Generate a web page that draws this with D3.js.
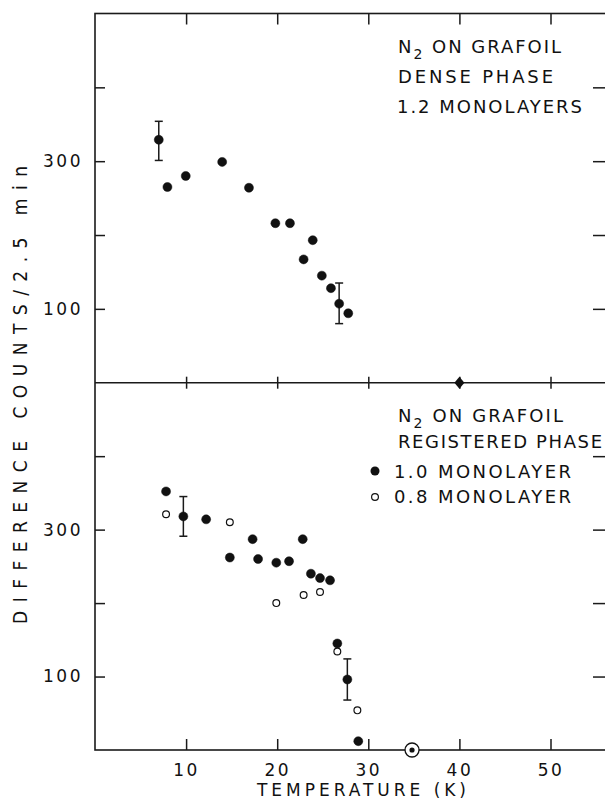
<!DOCTYPE html>
<html>
<head>
<style>
  body { margin: 0; background: #fff; }
  text { font-family: "DejaVu Sans", sans-serif; fill: #111; }
</style>
</head>
<body>
<script src="https://cdn.jsdelivr.net/npm/d3@7"></script>
<script>
// data
var denseT = [7.0, 7.95, 9.96, 13.96, 16.9, 19.8, 21.4, 23.9, 22.9, 24.9, 25.9, 26.8, 27.8];
var denseV = [329, 265, 280, 299, 264, 216, 216, 193, 167, 145, 128, 107, 94];
var denseErr = [[7.0, 301, 354], [26.8, 80, 135]];

var regFullT = [7.8, 9.7, 12.2, 14.8, 17.3, 17.9, 19.9, 21.3, 22.8, 23.7, 24.7, 25.8, 26.6, 27.7, 28.9];
var regFullV = [352, 318, 314, 262, 287, 260, 255, 257, 287, 240, 234, 231, 145, 96, 12];
var regLowT = [7.8, 14.8, 19.9, 22.9, 24.7, 26.6, 28.8];
var regLowV = [321, 310, 200, 211, 215, 134, 54];
var regErr = [[9.7, 291, 345], [27.7, 68, 124]];

var xTicks = [10, 20, 30, 40, 50];
var yTicks = [100, 200, 300, 400];
var yLabelled = [100, 300];

var W = 605, H = 801;
var left = 95, right = 610, top1 = 13.5, mid = 382.7, bot = 750;

var svg = d3.select("body").append("svg")
    .attr("width", W).attr("height", H);
svg.append("rect").attr("width", W).attr("height", H).style("fill", "#fff");

// 9.11 px per kelvin, the right edge of the frame lies just off the page
var x = d3.scaleLinear().domain([0, (right - left) / 9.11]).range([left, right]);
var yTop = d3.scaleLinear().domain([0, 500]).range([mid, top1]);
var yBot = d3.scaleLinear().domain([0, 500]).range([bot, mid]);

var ink = "#1a1a1a";

// frame
svg.append("rect")
    .attr("x", left).attr("y", top1)
    .attr("width", right - left).attr("height", bot - top1)
    .style("fill", "none").style("stroke", ink).style("stroke-width", 1.6);
svg.append("line")
    .attr("x1", left).attr("x2", right).attr("y1", mid).attr("y2", mid)
    .style("stroke", ink).style("stroke-width", 1.6);

function styleAxis(g) {
  g.select(".domain").remove();
  g.selectAll("line").style("stroke", ink).style("stroke-width", 1.5);
  g.selectAll("text").style("font-size", "17px").style("letter-spacing", "2.5px")
    .style("font-family", "'DejaVu Sans', sans-serif").style("fill", "#111");
}

// x ticks: top edge (down), middle (crossing), bottom (up, labelled)
svg.append("g").attr("transform", "translate(0," + top1 + ")")
    .call(d3.axisTop(x).tickValues(xTicks).tickSize(-11).tickFormat(""))
    .call(styleAxis);
svg.append("g").attr("transform", "translate(0," + (mid - 6) + ")")
    .call(d3.axisTop(x).tickValues(xTicks).tickSize(-12).tickFormat(""))
    .call(styleAxis);
svg.append("g").attr("transform", "translate(0," + bot + ")")
    .call(d3.axisBottom(x).tickValues(xTicks).tickSize(-11).tickPadding(14))
    .call(styleAxis);

// y ticks on both panels
[yTop, yBot].forEach(function(y) {
  svg.append("g").attr("transform", "translate(" + left + ",0)")
      .call(d3.axisLeft(y).tickValues(yTicks).tickSize(-10).tickPadding(12)
        .tickFormat(function(d) { return yLabelled.indexOf(d) >= 0 ? d : ""; }))
      .call(styleAxis);
  svg.append("g").attr("transform", "translate(" + 605 + ",0)")
      .call(d3.axisRight(y).tickValues(yTicks).tickSize(-12).tickFormat(""))
      .call(styleAxis);
});

// axis titles
svg.append("text")
    .attr("transform", "translate(27,395) rotate(-90)")
    .attr("text-anchor", "middle")
    .attr("textLength", 458).attr("lengthAdjust", "spacing")
    .style("font-size", "19px").style("font-stretch", "condensed")
    .style("font-family", "'DejaVu Sans Condensed', 'DejaVu Sans', sans-serif")
    .text("DIFFERENCE COUNTS/2.5 min");
svg.append("text")
    .attr("x", 257).attr("y", 796)
    .attr("textLength", 209).attr("lengthAdjust", "spacing")
    .style("font-size", "17px")
    .text("TEMPERATURE (K)");

// error bars
function errorBars(data, y) {
  var g = svg.append("g");
  g.selectAll(".v").data(data).enter().append("line")
      .attr("x1", function(d) { return x(d[0]); }).attr("x2", function(d) { return x(d[0]); })
      .attr("y1", function(d) { return y(d[1]); }).attr("y2", function(d) { return y(d[2]); })
      .style("stroke", ink).style("stroke-width", 1.5);
  [1, 2].forEach(function(k) {
    g.selectAll(".c" + k).data(data).enter().append("line")
        .attr("x1", function(d) { return x(d[0]) - 4; }).attr("x2", function(d) { return x(d[0]) + 4; })
        .attr("y1", function(d) { return y(d[k]); }).attr("y2", function(d) { return y(d[k]); })
        .style("stroke", ink).style("stroke-width", 1.5);
  });
}
errorBars(denseErr, yTop);
errorBars(regErr, yBot);

// points
function dots(ts, vs, y, open) {
  svg.append("g").selectAll("circle").data(d3.range(ts.length)).enter().append("circle")
      .attr("cx", function(i) { return x(ts[i]); })
      .attr("cy", function(i) { return y(vs[i]); })
      .attr("r", open ? 3.4 : 4.5)
      .style("fill", open ? "#fff" : "#111")
      .style("stroke", "#111").style("stroke-width", open ? 1.2 : 0.5);
}
dots(denseT, denseV, yTop, false);
dots(regFullT, regFullV, yBot, false);
dots(regLowT, regLowV, yBot, true);

// diamond on the shared axis at 40 K
svg.append("path")
    .attr("transform", "translate(" + x(40) + "," + yTop(0) + ")")
    .attr("d", "M0,-6L5,0L0,6L-5,0Z")
    .style("fill", "#111");
// circled point at 35 K, zero counts
svg.append("circle").attr("cx", x(34.8)).attr("cy", yBot(0)).attr("r", 7)
    .style("fill", "#fff").style("stroke", "#111").style("stroke-width", 1.3);
svg.append("circle").attr("cx", x(34.8)).attr("cy", yBot(0)).attr("r", 2.6)
    .style("fill", "#111");

// annotations
function label(xp, yp, len, parts) {
  var t = svg.append("text").attr("x", xp).attr("y", yp)
      .attr("textLength", len).attr("lengthAdjust", "spacing")
      .style("font-size", "18px");
  parts.forEach(function(p) {
    var s = t.append("tspan").text(p.s);
    if (p.sub) s.attr("dy", 6).style("font-size", "14px");
    if (p.back) s.attr("dy", -6);
  });
}
label(398, 53, 163, [{s: "N"}, {s: "2", sub: true}, {s: " ON GRAFOIL", back: true}]);
label(398, 83, 155, [{s: "DENSE PHASE"}]);
label(397, 113, 185, [{s: "1.2 MONOLAYERS"}]);

label(398, 422, 165, [{s: "N"}, {s: "2", sub: true}, {s: " ON GRAFOIL", back: true}]);
label(398, 448, 204, [{s: "REGISTERED PHASE"}]);
label(394, 478, 177, [{s: "1.0 MONOLAYER"}]);
label(394, 503, 177, [{s: "0.8 MONOLAYER"}]);

svg.append("circle").attr("cx", 375).attr("cy", 471).attr("r", 4.5).style("fill", "#111");
svg.append("circle").attr("cx", 375).attr("cy", 497).attr("r", 3.4)
    .style("fill", "#fff").style("stroke", "#111").style("stroke-width", 1.2);
</script>
</body>
</html>
